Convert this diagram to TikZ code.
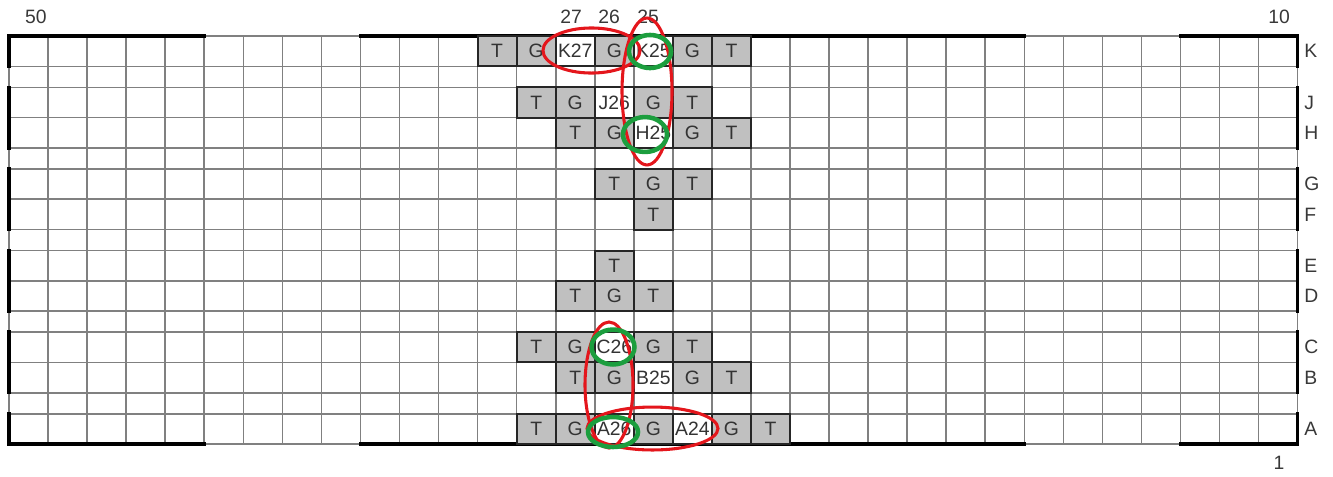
\documentclass[tikz,border=0pt]{standalone}
\usepackage{fontspec}
\setmainfont{Liberation Sans}
\usepackage{xcolor}
\usepackage{tikz}

\definecolor{cellgray}{RGB}{192,192,192}
\definecolor{ringred}{RGB}{228,22,28}
\definecolor{ringgreen}{RGB}{28,158,62}
\newcommand{\colw}{39.05}

\tikzset{
  gridline/.style={black!50, line width=1.2pt},
  frameline/.style={black, line width=2.6pt, line cap=rect},
  cell/.style={draw=black!85, line width=1.5pt, fill=cellgray,
    minimum width=29.29pt, minimum height=22.73pt, inner sep=0pt,
    text=black!80, font=\fontsize{14.5}{16}\selectfont},
  lbl/.style={text=black!78, inner sep=0pt, font=\fontsize{14.5}{16}\selectfont},
  redring/.style={ringred, line width=2.3pt},
  greenring/.style={ringgreen, line width=3.4pt},
}

\begin{document}
\begin{tikzpicture}[x=0.75pt, y=-0.75pt]
  \useasboundingbox (0,0) rectangle (1333,476);

  % 罫線
  \foreach \i in {0,...,33}
    \draw[gridline] ({9+\colw*\i},36) -- ({9+\colw*\i},444);
  \foreach \y in {36,66.3,87.3,117.6,147.9,168.9,199.2,229.5,250.5,280.8,311.1,332.1,362.4,392.7,413.7,444}
    \draw[gridline] (9,\y) -- ({9+\colw*33},\y);

  % 太枠
  \draw[frameline] (9,66.3) -- (9,36) -- ({9+\colw*5},36);
  \draw[frameline] ({9+\colw*9},36) -- ({9+\colw*26},36);
  \draw[frameline] ({9+\colw*30},36) -- ({9+\colw*33},36) -- ({9+\colw*33},66.3);
  \draw[frameline] (9,413.7) -- (9,444) -- ({9+\colw*5},444);
  \draw[frameline] ({9+\colw*9},444) -- ({9+\colw*26},444);
  \draw[frameline] ({9+\colw*30},444) -- ({9+\colw*33},444) -- ({9+\colw*33},413.7);
  \foreach \a/\b in {87.3/147.9,168.9/229.5,250.5/311.1,332.1/392.7} {
    \draw[frameline] (9,\a) -- (9,\b);
    \draw[frameline] ({9+\colw*33},\a) -- ({9+\colw*33},\b);
  }

  % セル
  \foreach \c/\t/\f in {12/T/cellgray,13/G/cellgray,14/K27/white,15/G/cellgray,16/K25/white,17/G/cellgray,18/T/cellgray}
    \node[cell, fill=\f] (K\c) at ({9+\colw*(\c+0.5)},51.15) {\t};
  \foreach \c/\t/\f in {13/T/cellgray,14/G/cellgray,15/J26/white,16/G/cellgray,17/T/cellgray}
    \node[cell, fill=\f] (J\c) at ({9+\colw*(\c+0.5)},102.45) {\t};
  \foreach \c/\t/\f in {14/T/cellgray,15/G/cellgray,16/H25/white,17/G/cellgray,18/T/cellgray}
    \node[cell, fill=\f] (H\c) at ({9+\colw*(\c+0.5)},132.75) {\t};
  \foreach \c/\t in {15/T,16/G,17/T}
    \node[cell] (G\c) at ({9+\colw*(\c+0.5)},184.05) {\t};
  \node[cell] (F16) at ({9+\colw*16.5},214.35) {T};
  \node[cell] (E15) at ({9+\colw*15.5},265.65) {T};
  \foreach \c/\t in {14/T,15/G,16/T}
    \node[cell] (D\c) at ({9+\colw*(\c+0.5)},295.95) {\t};
  \foreach \c/\t/\f in {13/T/cellgray,14/G/cellgray,15/C26/white,16/G/cellgray,17/T/cellgray}
    \node[cell, fill=\f] (C\c) at ({9+\colw*(\c+0.5)},347.25) {\t};
  \foreach \c/\t/\f in {14/T/cellgray,15/G/cellgray,16/B25/white,17/G/cellgray,18/T/cellgray}
    \node[cell, fill=\f] (B\c) at ({9+\colw*(\c+0.5)},377.55) {\t};
  \foreach \c/\t/\f in {13/T/cellgray,14/G/cellgray,15/A26/white,16/G/cellgray,17/A24/white,18/G/cellgray,19/T/cellgray}
    \node[cell, fill=\f] (A\c) at ({9+\colw*(\c+0.5)},428.85) {\t};

  % 番号
  \node[lbl] (n50) at (36,17) {50};
  \node[lbl] (n27) at (571,17) {27};
  \node[lbl] (n26) at (609,17) {26};
  \node[lbl] (n25) at (648,17) {25};
  \node[lbl] (n10) at (1279,17) {10};
  \node[lbl] (n1) at (1279,463) {1};
  \foreach \r/\y in {K/51.15,J/102.45,H/132.75,G/184.05,F/214.35,E/265.65,D/295.95,C/347.25,B/377.55,A/428.85}
    \node[lbl, anchor=west] (row\r) at (1304,\y) {\r};

  % 赤と緑の丸
  \draw[redring] (591.5,50.5) ellipse [x radius=36.4pt, y radius=16.9pt];
  \draw[redring] (647,91.5) ellipse [x radius=18.75pt, y radius=55.1pt];
  \draw[redring] (609,385) ellipse [x radius=18pt, y radius=47.25pt];
  \draw[redring] (652.5,428.5) ellipse [x radius=49.1pt, y radius=16.1pt];
  \draw[greenring] (650,51.5) ellipse [x radius=15.75pt, y radius=12.4pt];
  \draw[greenring] (645,134.5) ellipse [x radius=16.5pt, y radius=13.1pt];
  \draw[greenring] (613,347) ellipse [x radius=16.1pt, y radius=13.1pt];
  \draw[greenring] (613,432) ellipse [x radius=18.75pt, y radius=11.25pt];
\end{tikzpicture}
\end{document}
